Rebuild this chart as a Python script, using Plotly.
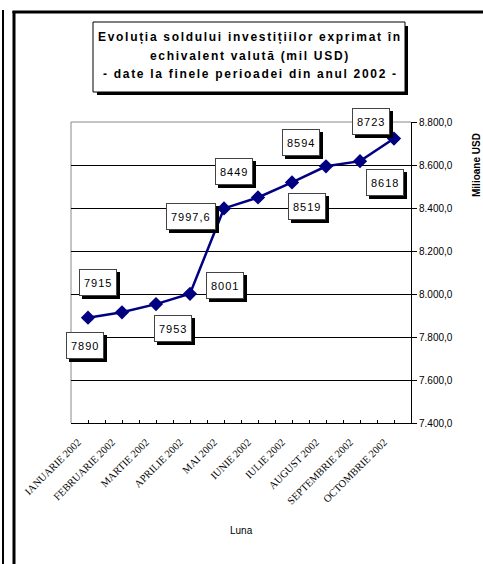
import plotly.graph_objects as go

months = ["IANUARIE 2002", "FEBRUARIE 2002", "MARTIE 2002", "APRILIE 2002", "MAI 2002",
          "IUNIE 2002", "IULIE 2002", "AUGUST 2002", "SEPTEMBRIE 2002", "OCTOMBRIE 2002"]
values = [7890, 7915, 7953, 8001, 8398, 8449, 8519, 8594, 8618, 8723]
label_text = ["7890", "7915", "7953", "8001", "7997,6", "8449", "8519", "8594", "8618", "8723"]
y_ticks = [7400, 7600, 7800, 8000, 8200, 8400, 8600, 8800]
title_lines = ["Evoluția soldului investițiilor exprimat în",
               "echivalent valută (mil USD)",
               "- date la finele perioadei din anul 2002 -"]

# label offsets (pixels, right / down) from each point
label_dx = [-3, -24, 17, 35, -33, -24, 15, -25, 25, -23]
label_dy = [28, -30, 24, -8, 8, -26, 24, -24, 21, -17]

W, H = 483, 564
L, R, T, B = 71, 411, 122, 423


def px(x):
    return (x - L) / (R - L)


def py(y):
    return (B - y) / (B - T)


NAVY = "#000080"
xs = list(range(len(months)))

fig = go.Figure()
fig.add_trace(go.Scatter(
    x=xs, y=values, mode="lines+markers",
    line=dict(color=NAVY, width=2.5),
    marker=dict(symbol="diamond", size=11, color=NAVY),
    hoverinfo="skip", showlegend=False, cliponaxis=False,
))

ann = []
# data labels with shadows
for i, (xv, yv, t) in enumerate(zip(xs, values, label_text)):
    for shadow in (True, False):
        off = 3 if shadow else 0
        ann.append(dict(
            x=xv, y=yv, xref="x", yref="y", showarrow=False,
            text='<span style="letter-spacing:1px">%s</span>' % t,
            xshift=label_dx[i] + off, yshift=-(label_dy[i] + off),
            font=dict(family="Arial", size=11, color="black"),
            bgcolor="black" if shadow else "white",
            bordercolor="black" if shadow else "#444",
            borderwidth=1, borderpad=4, height=17,
            xanchor="center", yanchor="middle",
        ))

# title lines
for k, line in enumerate(title_lines):
    ann.append(dict(
        x=px(250), y=py(37 + k * 18.5), xref="paper", yref="paper", showarrow=False,
        text='<span style="letter-spacing:1.7px"><b>%s</b></span>' % line,
        font=dict(family="Arial", size=12, color="black"),
        xanchor="center", yanchor="middle",
    ))

# axis titles
ann.append(dict(x=px(241), y=py(530), xref="paper", yref="paper", showarrow=False,
                text="Luna", font=dict(family="Arial", size=10, color="black"),
                xanchor="center", yanchor="middle"))
ann.append(dict(x=px(476), y=py(165), xref="paper", yref="paper", showarrow=False,
                text="<b>Milioane USD</b>", textangle=-90,
                font=dict(family="Arial", size=10, color="black"),
                xanchor="center", yanchor="middle"))

shapes = [
    # outer frame lines
    dict(type="line", xref="paper", yref="paper", x0=px(3), x1=px(3), y0=py(10), y1=py(570),
         line=dict(color="black", width=2)),
    dict(type="line", xref="paper", yref="paper", x0=px(14), x1=px(14), y0=py(11), y1=py(570),
         line=dict(color="black", width=3)),
    dict(type="line", xref="paper", yref="paper", x0=px(12.5), x1=px(490), y0=py(12), y1=py(12),
         line=dict(color="black", width=3)),
    # title box shadow and box
    dict(type="rect", xref="paper", yref="paper", x0=px(97), x1=px(408), y0=py(26), y1=py(95),
         fillcolor="black", line=dict(width=0)),
    dict(type="rect", xref="paper", yref="paper", x0=px(93), x1=px(405), y0=py(22), y1=py(92),
         fillcolor="white", line=dict(color="black", width=1)),
    # plot border (left / top, grey)
    dict(type="line", xref="paper", yref="paper", x0=0, x1=0, y0=0, y1=1,
         line=dict(color="#888", width=1), layer="below"),
    dict(type="line", xref="paper", yref="paper", x0=0, x1=1, y0=1, y1=1,
         line=dict(color="#888", width=1), layer="above"),
]

fig.update_layout(
    width=W, height=H,
    margin=dict(l=L, r=W - R, t=T, b=H - B, pad=0),
    paper_bgcolor="white", plot_bgcolor="white",
    separators=",.",
    showlegend=False,
    annotations=ann,
    shapes=shapes,
    xaxis=dict(
        range=[-0.5, 9.5], tickmode="array", tickvals=xs, ticktext=months,
        tickangle=-45, tickfont=dict(family="Liberation Serif", size=10.5, color="black"),
        ticklabelshift=-10, ticklabelstandoff=8,
        ticks="inside", ticklen=3, tickcolor="black",
        minor=dict(ticks="inside", ticklen=3, tickcolor="black", tickmode="linear", tick0=-0.5, dtick=1),
        showline=True, linecolor="black", linewidth=1, showgrid=False, zeroline=False,
        fixedrange=True,
    ),
    yaxis=dict(
        side="right", range=[7400, 8800], tickmode="array", tickvals=y_ticks,
        tickformat=",.1f", tickfont=dict(family="Arial", size=10, color="black"),
        ticks="outside", ticklen=5, tickcolor="black",
        showline=True, linecolor="black", linewidth=1,
        showgrid=True, gridcolor="black", gridwidth=1, zeroline=False,
        fixedrange=True,
    ),
)

fig.write_html("out.html", config={"displayModeBar": False},
               post_script="document.body.style.margin='0';document.body.style.overflow='hidden';")
